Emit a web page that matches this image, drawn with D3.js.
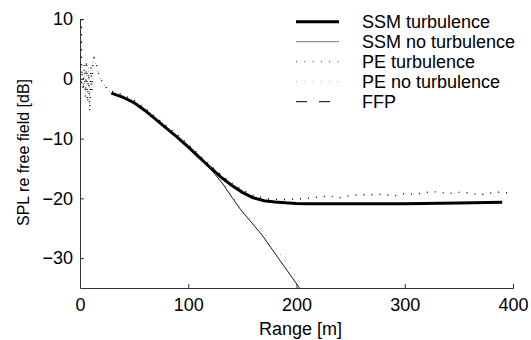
<!DOCTYPE html>
<html>
<head>
<meta charset="utf-8">
<script src="https://cdn.jsdelivr.net/npm/d3@7"></script>
<style>
  body { margin: 0; background: #fff; }
  text { font-family: "Liberation Sans", Arial, sans-serif; fill: #000; }
</style>
</head>
<body>
<div id="main"></div>
<script>
// range [m] and SPL re free field [dB]
const ssmTurbRange = [29, 40, 50, 60, 70, 80, 90, 100, 110, 120, 130, 140, 150, 160, 170, 180, 190, 200, 210, 250, 300, 350, 390];
const ssmTurbSpl   = [-2.4, -3.1, -4.0, -5.3, -6.8, -8.3, -9.8, -11.4, -13.1, -14.8, -16.4, -17.8, -19.0, -19.9, -20.4, -20.6, -20.75, -20.85, -20.9, -20.9, -20.9, -20.8, -20.65];

const ssmNoTurbRange = [29, 40, 50, 60, 70, 80, 90, 100, 110, 115, 123, 132, 141, 148, 168, 202, 206];
const ssmNoTurbSpl   = [-2.4, -3.1, -4.0, -5.3, -6.8, -8.3, -9.8, -11.4, -13.1, -14.0, -15.6, -17.6, -20.0, -21.8, -26.1, -34.8, -35.8];

const peTurbRange = [0, 1, 2, 3, 4, 5, 6, 7, 8, 9, 10, 11, 12, 13, 14, 15, 16, 18, 20, 22, 24, 26, 28, 30, 40, 50, 60, 70, 80, 90, 100, 110, 120, 130, 140, 150, 160, 170, 180, 190, 200, 210, 220, 230, 240, 250, 260, 270, 280, 290, 300, 310, 320, 330, 340, 350, 360, 370, 380, 390, 400];
const peTurbSpl   = [0, -1, 1, -2, 2.5, -3, 3, -4, 1, -5.5, 2, -2, 3, 3.5, 3.2, 2.5, 1.5, 0.5, -0.3, -0.9, -1.4, -1.8, -2.1, -2.1, -2.7, -3.6, -4.9, -6.4, -7.9, -9.4, -11.0, -12.7, -14.4, -16.0, -17.4, -18.6, -19.5, -20.0, -20.2, -20.2, -20.1, -20.0, -19.8, -19.6, -19.9, -19.5, -19.4, -19.4, -19.3, -19.6, -19.2, -19.3, -19.0, -18.9, -19.2, -19.0, -19.1, -19.4, -19.1, -18.9, -19.3];

const peNoTurbRange = [0, 1, 2, 3, 4, 5, 6, 7, 8, 9, 10, 11, 12, 13, 14, 15, 16, 18, 20, 22, 24, 26, 28, 30, 40, 50, 60, 70, 80, 90, 100, 110, 120, 130, 140, 150, 160, 170, 180, 190, 200, 206];
const peNoTurbSpl   = [1, -0.5, 2, -1.5, 0.5, -2.5, 1.5, -3.5, 2.2, -4.5, 0.5, -1, 2.8, 3.3, 3.0, 2.2, 1.2, 0.3, -0.5, -1.0, -1.5, -1.9, -2.2, -2.3, -2.9, -3.7, -5.0, -6.5, -8.0, -9.5, -11.1, -12.8, -14.7, -16.9, -19.5, -22.1, -24.0, -25.8, -28.1, -30.6, -33.2, -34.9];

const ffpRange = [1.5, 1.5, 1.6, 2];
const ffpSpl   = [10, 5, 2, 0.5];

const xTicks = [0, 100, 200, 300, 400];
const yTicks = [10, 0, -10, -20, -30];

const series = [
  { name: "SSM turbulence",    r: ssmTurbRange,   v: ssmTurbSpl,   color: "#000", width: 3,   dash: null,  legendDash: null,    legendColor: "#000" },
  { name: "SSM no turbulence", r: ssmNoTurbRange, v: ssmNoTurbSpl, color: "#000", width: 0.9, dash: null,  legendDash: null,    legendColor: "#777" },
  { name: "PE turbulence",     r: peTurbRange,    v: peTurbSpl,    color: "#000", width: 1.4, dash: "1,7", legendDash: "1,7.3", legendColor: "#333" },
  { name: "PE no turbulence",  r: peNoTurbRange,  v: peNoTurbSpl,  color: "#888", width: 1,   dash: "1,7", legendDash: "1,7.3", legendColor: "#aaa" },
  { name: "FFP",               r: ffpRange,       v: ffpSpl,       color: "#000", width: 1,   dash: "1.5,6", legendDash: "11,12", legendColor: "#000" }
];

const W = 531, H = 340;
const margin = { top: 19, right: 18, bottom: 52, left: 80 };
const width = W - margin.left - margin.right,
      height = H - margin.top - margin.bottom;

const svg = d3.select("#main").append("svg")
  .attr("width", W).attr("height", H);

const g = svg.append("g")
  .attr("transform", `translate(${margin.left} ${margin.top})`);

const x = d3.scaleLinear().domain([0, 400]).range([0, width]);
const y = d3.scaleLinear().domain([-35, 10]).range([height, 0]);

g.append("clipPath").attr("id", "clip")
  .append("rect").attr("width", width).attr("height", height);

const line = d3.line().x(d => x(d[0])).y(d => y(d[1]));

const plot = g.append("g").attr("clip-path", "url(#clip)");
series.forEach(s => {
  plot.append("path")
    .datum(s.r.map((r, i) => [r, s.v[i]]))
    .attr("d", line)
    .attr("fill", "none")
    .attr("stroke", s.color)
    .attr("stroke-width", s.width)
    .attr("stroke-dasharray", s.dash);
});

// axes, ticks pointing inward
const fmt = d => d < 0 ? "\u2212" + Math.abs(d) : String(d);

const xAxis = g.append("g")
  .attr("transform", `translate(0,${height})`)
  .call(d3.axisBottom(x).tickValues(xTicks).tickSizeInner(-4).tickSizeOuter(-4).tickPadding(10).tickFormat(fmt));
const yAxis = g.append("g")
  .call(d3.axisLeft(y).tickValues(yTicks).tickSizeInner(-4).tickSizeOuter(0).tickPadding(7).tickFormat(fmt));

[xAxis, yAxis].forEach(a => {
  a.selectAll("text").style("font-size", "18px").style("font-family", "Liberation Sans, Arial, sans-serif").attr("fill", "#000");
  a.selectAll("line, path").attr("stroke", "#333");
});
yAxis.select(".domain").attr("d", `M0.5,0V${height}`);

g.append("text")
  .attr("x", width / 2 + 4).attr("y", height + 47)
  .attr("text-anchor", "middle")
  .style("font-size", "18px")
  .text("Range [m]");

g.append("text")
  .attr("transform", `translate(${-51},${height / 2 - 1}) rotate(-90)`)
  .attr("text-anchor", "middle")
  .style("font-size", "16px")
  .text("SPL re free field [dB]");

// legend
const legend = svg.append("g").attr("transform", "translate(296,21.7)");
series.forEach((s, i) => {
  const row = legend.append("g").attr("transform", `translate(0,${i * 20})`);
  row.append("line")
    .attr("x1", 0).attr("x2", 43).attr("y1", 0).attr("y2", 0)
    .attr("stroke", s.legendColor)
    .attr("stroke-width", i === 0 ? 3 : 1)
    .attr("stroke-dasharray", s.legendDash);
  row.append("text")
    .attr("x", 66).attr("y", 6.6)
    .style("font-size", "18px")
    .text(s.name);
});
</script>
</body>
</html>
